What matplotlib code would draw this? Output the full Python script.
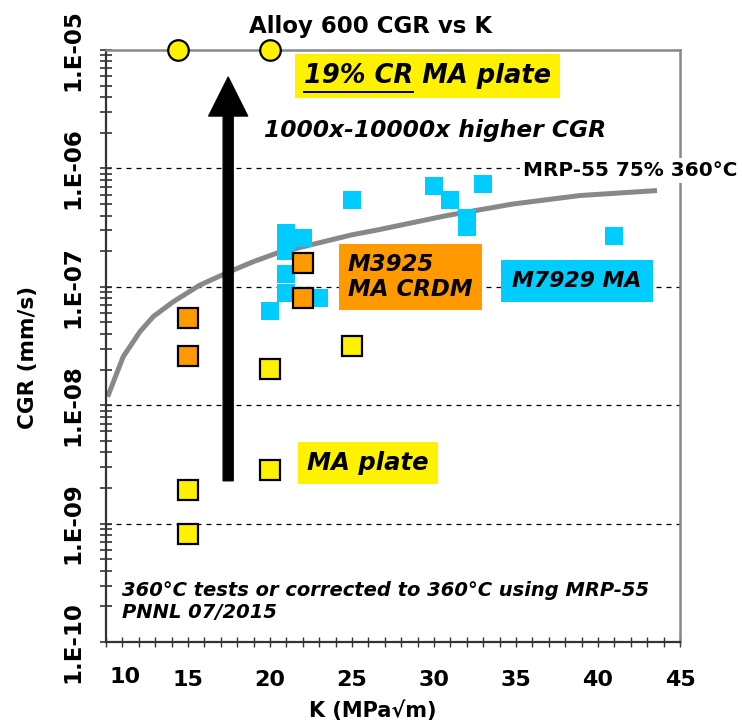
import numpy as np
import matplotlib
matplotlib.use('Agg')
import matplotlib.pyplot as plt
from matplotlib.ticker import LogLocator, MultipleLocator, FixedLocator, FixedFormatter, NullFormatter
from matplotlib.lines import Line2D
from matplotlib.font_manager import FontProperties

# ---------------- data ----------------
cr_k = [14.4, 20.0]
cr_cgr = [1e-5, 1e-5]

ma_plate_k = [15, 15, 20, 20, 25]
ma_plate_cgr = [1.92e-9, 8.1e-10, 2.84e-9, 2.02e-8, 3.16e-8]

m3925_k = [15, 15, 22, 22]
m3925_cgr = [5.42e-8, 2.62e-8, 1.58e-7, 8.0e-8]

m7929_k = [20, 21, 21, 21, 21, 22, 23, 25, 30, 31, 32, 32, 33, 41]
m7929_cgr = [6.25e-8, 2.83e-7, 2.02e-7, 1.28e-7, 8.8e-8, 2.57e-7, 8.1e-8,
             5.4e-7, 7.1e-7, 5.4e-7, 3.8e-7, 3.2e-7, 7.4e-7, 2.7e-7]

mrp_k = [10.1, 11.05, 12.07, 12.88, 14.1, 15.73, 17.36, 18.98, 20.4,
         24.9, 26.7, 29.2, 30.8, 34.8, 38.9, 43.6]
mrp_cgr = [1.18e-8, 2.57e-8, 4.18e-8, 5.6e-8, 7.48e-8, 1.035e-7, 1.31e-7, 1.63e-7, 1.92e-7,
           2.73e-7, 3.05e-7, 3.6e-7, 4.0e-7, 5.0e-7, 5.9e-7, 6.5e-7]

arrow_k = 17.45
arrow_from = 2.3e-9
arrow_to = 5.9e-6

y_ticks = [1e-10, 1e-9, 1e-8, 1e-7, 1e-6, 1e-5]
y_tick_labels = ['1.E-10', '1.E-09', '1.E-08', '1.E-07', '1.E-06', '1.E-05']
x_ticks = [10, 15, 20, 25, 30, 35, 40, 45]
x_tick_labels = ['', '15', '20', '25', '30', '35', '40', '45']

# ---------------- colours ----------------
YELLOW = '#FFF200'
ORANGE = '#FF9900'
CYAN = '#00CCFF'

W, H = 742, 728
fig = plt.figure(figsize=(W / 100, H / 100), dpi=100)
plt.rcParams['font.family'] = ['DejaVu Sans']

L, R, T, B = 106, 680, 50, 642
ax = fig.add_axes([L / W, 1 - B / H, (R - L) / W, (B - T) / H])
ax.set_xlim(10, 45)
ax.set_yscale('log')
ax.set_ylim(1e-10, 1e-5)

def fx(px):
    return px / W

def fy(py):
    return 1 - py / H

# grid
for g in [1e-9, 1e-8, 1e-7, 1e-6]:
    ax.axhline(g, color='black', lw=0.9, ls=(0, (4, 4)), zorder=1)

# MRP-55 curve
ax.plot(mrp_k, mrp_cgr, color='#888888', lw=3.6, solid_capstyle='butt',
        solid_joinstyle='round', zorder=2)

# arrow
ax.annotate('', xy=(arrow_k, arrow_to), xytext=(arrow_k, arrow_from),
            arrowprops=dict(arrowstyle='simple,head_length=1.4,head_width=1.4,tail_width=0.36',
                            color='black', shrinkA=0, shrinkB=0, mutation_scale=20),
            zorder=3)

# markers
ax.plot(m7929_k, m7929_cgr, ls='none', marker='s', ms=12.3, mfc=CYAN, mec=CYAN, mew=0, zorder=4)
ax.plot(m3925_k, m3925_cgr, ls='none', marker='s', ms=14.2, mfc=ORANGE, mec='black', mew=1.6, zorder=5)
ax.plot(ma_plate_k, ma_plate_cgr, ls='none', marker='s', ms=14.2, mfc=YELLOW, mec='black', mew=1.6, zorder=5)
ax.plot(cr_k, cr_cgr, ls='none', marker='o', ms=14.8, mfc=YELLOW, mec='black', mew=1.6, zorder=6, clip_on=False)

# axes styling
for side in ['left', 'bottom']:
    ax.spines[side].set_color('#333333')
    ax.spines[side].set_linewidth(1.6)
for side in ['top', 'right']:
    ax.spines[side].set_color('#888888')
    ax.spines[side].set_linewidth(1.8)

ax.yaxis.set_major_locator(FixedLocator(y_ticks))
ax.yaxis.set_major_formatter(FixedFormatter(y_tick_labels))
ax.yaxis.set_minor_locator(LogLocator(base=10, subs=np.arange(2, 10)))
ax.yaxis.set_minor_formatter(NullFormatter())
ax.xaxis.set_major_locator(FixedLocator(x_ticks))
ax.xaxis.set_major_formatter(FixedFormatter(x_tick_labels))
ax.xaxis.set_minor_locator(MultipleLocator(1))

ax.tick_params(axis='y', which='both', direction='inout', length=9, width=1.2, color='#333333',
               right=False, labelsize=16.5, pad=11)
ax.tick_params(axis='x', which='both', direction='inout', length=7, width=1.0, color='#333333',
               top=False, labelsize=16, pad=16.5)
for lab in ax.get_yticklabels():
    lab.set_rotation(90)
    lab.set_va('center')
    lab.set_fontweight('bold')
for lab in ax.get_xticklabels():
    lab.set_fontweight('bold')

# first x tick label shifted right as in the reference
fig.text(fx(125), fy(677), '10', fontsize=16, fontweight='bold', ha='center', va='center')

fig.text(fx(373), fy(711), 'K (MPa√m)', fontsize=15, fontweight='bold', ha='center', va='center')
fig.text(fx(28), fy(357), 'CGR (mm/s)', fontsize=15.5, fontweight='bold', rotation=90,
         ha='center', va='center')

# title
fig.text(fx(371), fy(27), 'Alloy 600 CGR vs K', fontsize=16.5, fontweight='bold',
         ha='center', va='center')

# annotations
fs19 = 18.5
t19 = fig.text(fx(304), fy(76), '19% CR MA plate', fontsize=fs19, fontweight='bold', style='italic',
               ha='left', va='center',
               bbox=dict(boxstyle='square,pad=0.35', fc=YELLOW, ec='none'))

fig.text(fx(435), fy(131), '1000x-10000x higher CGR', fontsize=16.8, fontweight='bold', style='italic',
         ha='center', va='center')

fig.text(fx(523), fy(170), 'MRP-55 75% 360°C', fontsize=14.4, fontweight='bold',
         ha='left', va='center',
         bbox=dict(boxstyle='square,pad=0.15', fc='white', ec='none'))

fig.text(fx(348), fy(277), 'M3925\nMA CRDM', fontsize=16.5, fontweight='bold', style='italic',
         ha='left', va='center', linespacing=1.1,
         bbox=dict(boxstyle='square,pad=0.4', fc=ORANGE, ec='none'))

fig.text(fx(577), fy(281), 'M7929 MA', fontsize=15.8, fontweight='bold', style='italic',
         ha='center', va='center',
         bbox=dict(boxstyle='square,pad=0.5', fc=CYAN, ec='none'))

fig.text(fx(368), fy(463), 'MA plate', fontsize=17.5, fontweight='bold', style='italic',
         ha='center', va='center',
         bbox=dict(boxstyle='square,pad=0.38', fc=YELLOW, ec='none'))

fig.text(fx(122), fy(602), '360°C tests or corrected to 360°C using MRP-55\nPNNL 07/2015',
         fontsize=14, fontweight='bold', style='italic', ha='left', va='center', linespacing=1.2)

# underline "19% CR"
fig.canvas.draw()
r = fig.canvas.get_renderer()
bb = t19.get_window_extent(r)
fp = FontProperties(family='DejaVu Sans', weight='bold', style='italic', size=fs19)
w_part, h_part, d_part = r.get_text_width_height_descent('19% CR', fp, ismath=False)
yl = bb.y0 + d_part - 3
fig.add_artist(Line2D([bb.x0 / W, (bb.x0 + w_part) / W], [yl / H, yl / H], color='black', lw=1.4,
                      transform=fig.transFigure, zorder=10))

fig.savefig('out.png', dpi=100)
